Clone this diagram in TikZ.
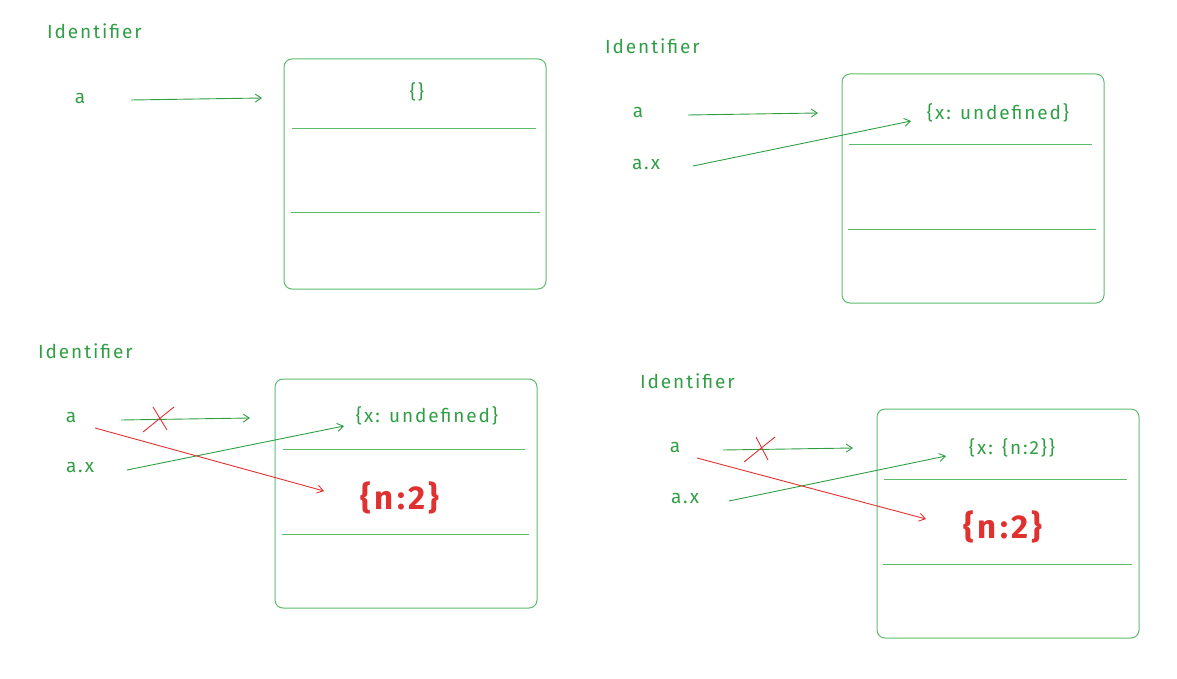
\documentclass[tikz,border=0pt]{standalone}
\usepackage{fontspec}
\setmainfont{Fira Sans}[LetterSpace=10]
\usetikzlibrary{arrows.meta}
\definecolor{ink}{HTML}{2F9E44}
\definecolor{boxink}{HTML}{5DBB6C}
\definecolor{alert}{HTML}{E03131}
\tikzset{
  lbl/.style={text=ink, font=\fontsize{19}{22}\selectfont, inner sep=0pt},
  title/.style={lbl, anchor=west},
  objbox/.style={draw=boxink, line width=1pt, rounded corners=8pt},
  sep/.style={draw=boxink, line width=0.9pt},
  ptr/.style={draw=ink, line width=0.9pt, -{Straight Barb[length=6pt,width=8pt]}},
  newptr/.style={draw=alert, line width=0.9pt, -{Straight Barb[length=6pt,width=8pt]}},
  cut/.style={draw=alert, line width=0.9pt},
  newval/.style={text=alert, font=\fontsize{33}{36}\selectfont\bfseries, inner sep=0pt},
}
\begin{document}
\begin{tikzpicture}[x=1pt,y=-1pt]
\useasboundingbox (0,0) rectangle (1177,679);

% ---------- step 1: a = {}
\node[title] (t1) at (47,31) {Identifier};
\node[lbl] (a1) at (80,98) {a};
\draw[objbox] (284,59) rectangle (546,289);
\node[lbl] (o1) at (417,92) {\{\}};
\draw[sep] (292,128) -- (536,128);
\draw[sep] (291,212) -- (540,212);
\coordinate (s1) at (131,100);
\coordinate (h1) at (262,98);
\draw[ptr] (s1) -- (h1);

% ---------- step 2: a.x evaluated
\node[title] (t2) at (605,46) {Identifier};
\node[lbl] (a2) at (638,112) {a};
\node[lbl] (ax2) at (646,164) {a.x};
\draw[objbox] (842,74) rectangle (1104,303);
\node[lbl] (o2) at (998,113) {\{x: undefined\}};
\draw[sep] (849,144) -- (1092,144);
\draw[sep] (848,229) -- (1096,229);
\coordinate (h2a) at (818,113);
\coordinate (h2x) at (911,121);
\coordinate (s2a) at (688,115);
\coordinate (s2x) at (693,166);
\draw[ptr] (s2a) -- (h2a);
\draw[ptr] (s2x) -- (h2x);

% ---------- step 3: a = {n:2}
\node[title] (t3) at (38,351) {Identifier};
\node[lbl] (a3) at (71,417) {a};
\node[lbl] (ax3) at (80,467) {a.x};
\draw[objbox] (275,379) rectangle (537,608);
\node[lbl] (o3) at (427,416) {\{x: undefined\}};
\draw[sep] (283,449) -- (525,449);
\node[newval] (n3) at (400,498) {\{n:2\}};
\draw[sep] (282,534) -- (529,534);
\coordinate (s3a) at (121,420);
\coordinate (h3a) at (250,418);
\coordinate (s3x) at (127,470);
\coordinate (h3x) at (344,426);
\coordinate (s3n) at (95,428);
\coordinate (h3n) at (324,491);
\draw[ptr] (s3a) -- (h3a);
\draw[cut] (143,432) -- (174,407);
\draw[cut] (153,407) -- (167,430);
\draw[ptr] (s3x) -- (h3x);
\draw[newptr] (s3n) -- (h3n);

% ---------- step 4: a.x = a
\node[title] (t4) at (640,381) {Identifier};
\node[lbl] (a4) at (675,447) {a};
\node[lbl] (ax4) at (685,498) {a.x};
\draw[objbox] (877,409) rectangle (1139,638);
\node[lbl] (o4) at (1012,448) {\{x: \{n:2\}\}};
\draw[sep] (884,479) -- (1127,479);
\node[newval] (n4) at (1003,527) {\{n:2\}};
\draw[sep] (883,564) -- (1132,564);
\coordinate (s4a) at (723,450);
\coordinate (h4a) at (853,448);
\coordinate (s4x) at (729,501);
\coordinate (h4x) at (946,456);
\coordinate (s4n) at (697,458);
\coordinate (h4n) at (926,519);
\draw[ptr] (s4a) -- (h4a);
\draw[cut] (744,462) -- (775,437);
\draw[cut] (756,437) -- (768,460);
\draw[ptr] (s4x) -- (h4x);
\draw[newptr] (s4n) -- (h4n);
\end{tikzpicture}
\end{document}
